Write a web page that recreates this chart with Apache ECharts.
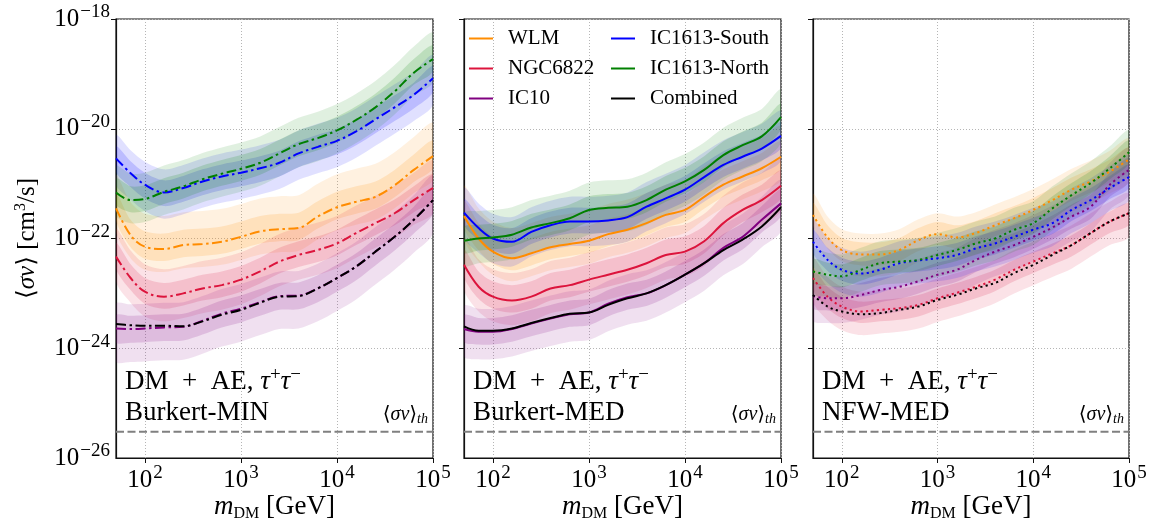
<!DOCTYPE html>
<html>
<head>
<meta charset="utf-8">
<script src="https://cdn.jsdelivr.net/npm/echarts@6/dist/echarts.min.js"></script>
<style>
  html, body { margin: 0; padding: 0; background: #fff; }
  #chart { width: 1153px; height: 527px; }
</style>
</head>
<body>
<div id="chart"></div>
<script>
// ---------------------------------------------------------------
// Data: dark-matter mass grid and upper limits on <σv>.
// Limits are stored as log10(<σv> / cm^3 s^-1).
// ---------------------------------------------------------------
const massGeV = [50, 71, 100, 158, 251, 398, 631, 1000, 1585, 2512, 3981, 6310, 10000, 15849, 25119, 39811, 63096, 100000];

const sources = ['WLM', 'NGC6822', 'IC10', 'IC1613-South', 'IC1613-North', 'Combined'];
const sourceColors = ['#ff8c00', '#dc143c', '#800080', '#0000ff', '#008000', '#000000'];

const THERMAL_XS = 3e-26;

// Burkert-MIN
const minWLM      = [-21.45, -21.94, -22.15, -22.19, -22.12, -22.10, -22.06, -21.97, -21.87, -21.83, -21.81, -21.60, -21.43, -21.33, -21.24, -21.03, -20.75, -20.50];
const minNGC6822  = [-22.33, -22.72, -22.97, -23.06, -23.00, -22.91, -22.85, -22.75, -22.60, -22.42, -22.30, -22.21, -22.09, -21.90, -21.72, -21.54, -21.30, -21.08];
const minIC10     = [-23.64, -23.65, -23.64, -23.62, -23.61, -23.50, -23.37, -23.28, -23.16, -23.05, -23.04, -22.91, -22.72, -22.51, -22.24, -21.97, -21.66, -21.30];
const minSouth    = [-20.54, -20.81, -21.02, -21.16, -21.08, -20.96, -20.87, -20.80, -20.72, -20.62, -20.45, -20.33, -20.22, -20.05, -19.83, -19.61, -19.38, -19.08];
const minNorth    = [-21.16, -21.30, -21.28, -21.15, -21.05, -20.92, -20.82, -20.73, -20.62, -20.45, -20.28, -20.17, -20.03, -19.84, -19.61, -19.32, -18.98, -18.73];
const minCombined = [-23.56, -23.58, -23.59, -23.59, -23.60, -23.51, -23.39, -23.30, -23.17, -23.06, -23.05, -22.91, -22.72, -22.51, -22.24, -21.97, -21.66, -21.30];

// Burkert-MED
const medWLM      = [-21.59, -22.00, -22.24, -22.36, -22.27, -22.16, -22.10, -22.04, -21.92, -21.84, -21.72, -21.57, -21.48, -21.24, -21.02, -20.87, -20.72, -20.51];
const medNGC6822  = [-22.48, -22.88, -23.06, -23.13, -23.06, -22.91, -22.85, -22.75, -22.66, -22.57, -22.45, -22.30, -22.24, -22.05, -21.72, -21.48, -21.30, -21.04];
const medIC10     = [-23.65, -23.70, -23.70, -23.65, -23.55, -23.46, -23.38, -23.35, -23.19, -23.07, -23.00, -22.85, -22.66, -22.45, -22.17, -21.97, -21.66, -21.36];
const medSouth    = [-21.53, -21.81, -22.00, -22.06, -21.88, -21.76, -21.69, -21.69, -21.67, -21.61, -21.42, -21.27, -21.11, -20.88, -20.66, -20.51, -20.36, -20.13];
const medNorth    = [-22.04, -22.00, -21.98, -21.93, -21.80, -21.72, -21.63, -21.48, -21.44, -21.42, -21.30, -21.11, -20.96, -20.75, -20.48, -20.30, -20.14, -19.79];
const medCombined = [-23.60, -23.68, -23.68, -23.64, -23.54, -23.45, -23.37, -23.35, -23.21, -23.09, -23.00, -22.85, -22.66, -22.45, -22.21, -22.02, -21.78, -21.43];

// NFW-MED
const nfwWLM      = [-21.57, -21.98, -22.21, -22.29, -22.29, -22.21, -22.03, -21.92, -21.98, -21.90, -21.76, -21.63, -21.48, -21.30, -21.11, -20.96, -20.78, -20.56];
const nfwNGC6822  = [-22.72, -23.06, -23.24, -23.33, -23.30, -23.27, -23.21, -23.09, -22.99, -22.88, -22.75, -22.57, -22.42, -22.27, -22.12, -21.90, -21.69, -21.54];
const nfwIC10     = [-23.05, -23.09, -23.09, -23.03, -22.94, -22.88, -22.78, -22.66, -22.57, -22.39, -22.24, -22.12, -21.97, -21.80, -21.60, -21.42, -21.02, -20.75];
const nfwSouth    = [-22.06, -22.39, -22.57, -22.64, -22.57, -22.45, -22.40, -22.36, -22.30, -22.18, -22.09, -21.97, -21.84, -21.72, -21.48, -21.30, -21.08, -20.88];
const nfwNorth    = [-22.60, -22.66, -22.69, -22.57, -22.45, -22.42, -22.39, -22.30, -22.21, -22.09, -22.00, -21.84, -21.72, -21.45, -21.21, -20.99, -20.72, -20.43];
const nfwCombined = [-23.03, -23.24, -23.33, -23.38, -23.36, -23.30, -23.24, -23.12, -23.03, -22.91, -22.81, -22.63, -22.48, -22.30, -22.12, -21.90, -21.69, -21.54];

// Containment bands around each expected limit, in dex:
// [outer low, inner low, inner high, outer high]
const spreadMin = [[-0.42, -0.22, 0.28, 0.60], [-0.45, -0.22, 0.25, 0.50], [-0.60, -0.25, 0.24, 0.45], [-0.48, -0.25, 0.22, 0.42], [-0.42, -0.22, 0.25, 0.48]];
const spreadMed = [[-0.42, -0.22, 0.28, 0.55], [-0.45, -0.22, 0.28, 0.50], [-0.50, -0.23, 0.25, 0.42], [-0.45, -0.22, 0.25, 0.45], [-0.45, -0.22, 0.25, 0.50]];
const spreadNfw = [[-0.40, -0.20, 0.22, 0.38], [-0.43, -0.21, 0.18, 0.36], [-0.45, -0.22, 0.22, 0.40], [-0.42, -0.20, 0.22, 0.40], [-0.40, -0.20, 0.22, 0.40]];

const profileLabels = ['Burkert-MIN', 'Burkert-MED', 'NFW-MED'];

// ---------------------------------------------------------------
// Layout and styling
// ---------------------------------------------------------------
const FONT = "'Liberation Serif', 'DejaVu Serif', serif";
const panels = [
  { limits: [minWLM, minNGC6822, minIC10, minSouth, minNorth, minCombined], spread: spreadMin, dash: [10, 3.5, 2.5, 3.5] },
  { limits: [medWLM, medNGC6822, medIC10, medSouth, medNorth, medCombined], spread: spreadMed, dash: 'solid' },
  { limits: [nfwWLM, nfwNGC6822, nfwIC10, nfwSouth, nfwNorth, nfwCombined], spread: spreadNfw, dash: [2.2, 3.3] }
];
const layout = [{ left: 116, width: 317 }, { left: 464, width: 317 }, { left: 813, width: 316 }];
const TOP = 19, HEIGHT = 439;
const X_MIN = 50, X_MAX = 1e5;
const Y_MIN = 1e-26, Y_MAX = 1e-18;

function rgba(hex, a) {
  const n = parseInt(hex.slice(1), 16);
  return 'rgba(' + (n >> 16 & 255) + ',' + (n >> 8 & 255) + ',' + (n & 255) + ',' + a + ')';
}

function powLabel(v) {
  const e = Math.log10(v);
  const r = Math.round(e);
  if (Math.abs(e - r) > 1e-6) return '';
  return '{b|10}{s|' + String(r).replace('-', '\u2212') + '}';
}

const powRich = {
  b: { fontFamily: FONT, fontSize: 25, lineHeight: 32, color: '#000' },
  s: { fontFamily: FONT, fontSize: 19, lineHeight: 19, verticalAlign: 'top', color: '#000', padding: [0, 0, 0, 1] }
};

// Shaded containment region: outer band, then inner band on top of it
function bandRenderer(vals, spread, color) {
  return function (params, api) {
    const edge = d => massGeV.map((m, k) => api.coord([m, Math.pow(10, vals[k] + d)]));
    const poly = (lo, hi, alpha) => ({
      type: 'polygon',
      shape: { points: edge(hi).concat(edge(lo).reverse()), smooth: 0.3 },
      style: { fill: rgba(color, alpha), stroke: null }
    });
    return { type: 'group', children: [poly(spread[0], spread[3], 0.12), poly(spread[1], spread[2], 0.16)] };
  };
}

const grids = [], xAxes = [], yAxes = [], series = [], graphics = [];

layout.forEach((g, i) => {
  grids.push({
    left: g.left, top: TOP, width: g.width, height: HEIGHT,
    outerBoundsMode: 'none', containLabel: false,
    show: true, borderColor: '#111', borderWidth: 1.2, backgroundColor: 'transparent'
  });

  xAxes.push({
    type: 'log', logBase: 10, gridIndex: i, min: X_MIN, max: X_MAX,
    axisLine: { show: true, lineStyle: { color: '#111', width: 1.2 } },
    axisTick: { show: true, length: 5, lineStyle: { color: '#111', width: 1 } },
    axisLabel: { show: true, margin: 6, formatter: powLabel, rich: powRich, showMinLabel: false, showMaxLabel: true, hideOverlap: false },
    splitLine: { show: true, lineStyle: { color: '#b5b5b5', width: 1, type: [1, 2] } },
    minorTick: { show: false },
    name: '{i|m}{d|DM}{b| [GeV]}', nameLocation: 'middle', nameGap: 34, nameMoveOverlap: false,
    nameTextStyle: {
      rich: {
        i: { fontFamily: FONT, fontStyle: 'italic', fontSize: 27, lineHeight: 30, color: '#000' },
        d: { fontFamily: FONT, fontSize: 16, lineHeight: 15, verticalAlign: 'bottom', color: '#000' },
        b: { fontFamily: FONT, fontSize: 27, lineHeight: 30, color: '#000' }
      }
    }
  });

  const y = {
    type: 'log', logBase: 10, gridIndex: i, min: Y_MIN, max: Y_MAX, interval: 2,
    axisLine: { show: true, lineStyle: { color: '#111', width: 1.2 } },
    axisTick: { show: true, length: 5, lineStyle: { color: '#111', width: 1 } },
    axisLabel: { show: i === 0, margin: 6, formatter: powLabel, rich: powRich, showMaxLabel: true, hideOverlap: false },
    splitLine: { show: true, lineStyle: { color: '#b5b5b5', width: 1, type: [1, 2] } },
    minorTick: { show: false }
  };
  if (i === 0) {
    y.name = '{b|\u27e8}{i|\u03c3v}{b|\u27e9 [cm}{s|3}{b|/s]}';
    y.nameLocation = 'middle';
    y.nameRotate = 90;
    y.nameGap = 75;
    y.nameMoveOverlap = false;
    y.nameTextStyle = {
      rich: {
        b: { fontFamily: FONT, fontSize: 25, lineHeight: 28, color: '#000' },
        i: { fontFamily: FONT, fontStyle: 'italic', fontSize: 25, lineHeight: 28, color: '#000' },
        s: { fontFamily: FONT, fontSize: 16, lineHeight: 16, verticalAlign: 'top', color: '#000' }
      }
    };
  }
  yAxes.push(y);

  const p = panels[i];
  // bands
  p.limits.forEach((vals, s) => {
    if (!p.spread[s]) return;
    series.push({
      type: 'custom', name: 'band-' + sources[s], xAxisIndex: i, yAxisIndex: i,
      clip: true, silent: true, z: 1,
      data: [[massGeV[0], Math.pow(10, vals[0])]],
      renderItem: bandRenderer(vals, p.spread[s], sourceColors[s])
    });
  });
  // thermal relic cross section; on the first panel it also carries the
  // bottom-corner decade label (10^-26), which the axis drops at the corner
  const thermal = {
    type: 'line', name: 'thermal', xAxisIndex: i, yAxisIndex: i, z: 2, silent: true,
    data: [[X_MIN, THERMAL_XS], [X_MAX, THERMAL_XS]],
    symbol: 'none', lineStyle: { color: '#808080', width: 2, type: [8, 3.5] }
  };
  if (i === 0) {
    thermal.markPoint = {
      silent: true, symbol: 'circle', symbolSize: 0, animation: false,
      data: [{ coord: [X_MIN, Y_MIN] }],
      label: {
        show: true, position: 'left', distance: 6,
        formatter: () => powLabel(Y_MIN), rich: powRich
      }
    };
  }
  series.push(thermal);
  // expected limits
  p.limits.forEach((vals, s) => {
    series.push({
      type: 'line', name: sources[s], xAxisIndex: i, yAxisIndex: i, z: 3,
      color: sourceColors[s],
      data: massGeV.map((m, k) => [m, Math.pow(10, vals[k])]),
      symbol: 'none', smooth: 0.35, clip: true,
      lineStyle: { color: sourceColors[s], width: 2, type: p.dash },
      emphasis: { disabled: true }
    });
  });

  // annotations
  graphics.push({
    type: 'text', x: g.left + 9, y: 382, silent: true,
    style: {
      text: '{n|DM\u2002+\u2002AE, }{i|\u03c4}{s|+}{i|\u03c4}{s|\u2212}',
      verticalAlign: 'middle', fill: '#000', font: '27px ' + FONT,
      rich: {
        n: { fontFamily: FONT, fontSize: 27, lineHeight: 32, fill: '#000' },
        i: { fontFamily: FONT, fontStyle: 'italic', fontSize: 27, lineHeight: 32, fill: '#000' },
        s: { fontFamily: FONT, fontSize: 19, lineHeight: 19, verticalAlign: 'top', fill: '#000' }
      }
    }
  });
  graphics.push({
    type: 'text', x: g.left + 9, y: 413, silent: true,
    style: { text: profileLabels[i], verticalAlign: 'middle', fill: '#000', font: '27px ' + FONT }
  });
  graphics.push({
    type: 'text', x: g.left + g.width - 5, y: 415, silent: true,
    style: {
      text: '{n|\u27e8}{i|\u03c3v}{n|\u27e9}{t|th}',
      align: 'right', verticalAlign: 'middle', fill: '#000', font: '20px ' + FONT,
      rich: {
        n: { fontFamily: FONT, fontSize: 20, lineHeight: 22, fill: '#000' },
        i: { fontFamily: FONT, fontStyle: 'italic', fontSize: 20, lineHeight: 22, fill: '#000' },
        t: { fontFamily: FONT, fontStyle: 'italic', fontSize: 14, lineHeight: 12, verticalAlign: 'bottom', fill: '#000' }
      }
    }
  });
});

const legendBase = {
  orient: 'vertical', top: 28, padding: 0, itemWidth: 24, itemHeight: 2, itemGap: 9,
  icon: 'rect', selectedMode: false,
  itemStyle: { borderWidth: 0 },
  textStyle: { fontFamily: FONT, fontSize: 21, color: '#000', padding: [0, 0, 0, 10] }
};

const chart = echarts.init(document.getElementById('chart'), null, { renderer: 'canvas' });
chart.setOption({
  animation: false,
  backgroundColor: '#fff',
  grid: grids,
  xAxis: xAxes,
  yAxis: yAxes,
  legend: [
    Object.assign({}, legendBase, { left: 469, data: sources.slice(0, 3) }),
    Object.assign({}, legendBase, { left: 611, data: sources.slice(3) })
  ],
  series: series,
  graphic: graphics
});
</script>
</body>
</html>
